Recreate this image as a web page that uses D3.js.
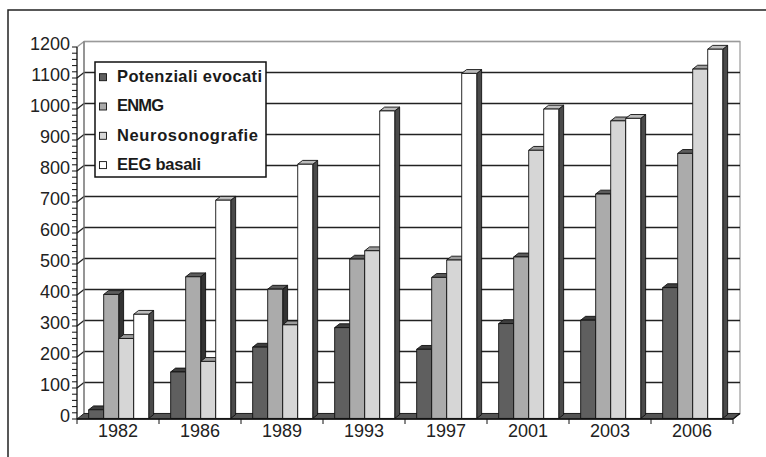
<!DOCTYPE html>
<html>
<head>
<meta charset="utf-8">
<script src="https://cdn.jsdelivr.net/npm/d3@7/dist/d3.min.js"></script>
<style>
  html, body { margin: 0; padding: 0; background: #fff; }
  svg { display: block; }
  text { font-family: "Liberation Sans", Arial, sans-serif; }
</style>
</head>
<body>
<svg id="chart" width="766" height="457"></svg>
<script>
// Examinations per year, by type
const years = ["1982", "1986", "1989", "1993", "1997", "2001", "2003", "2006"];
const seriesNames = ["Potenziali evocati", "ENMG", "Neurosonografie", "EEG basali"];
const potenzialiEvocati = [28, 150, 230, 293, 223, 306, 317, 422];
const enmg = [400, 457, 417, 514, 455, 521, 724, 855];
const neurosonografie = [258, 184, 302, 541, 511, 865, 960, 1127];
const eegBasali = [336, 704, 820, 992, 1113, 998, 968, 1191];
const yTicks = [0, 100, 200, 300, 400, 500, 600, 700, 800, 900, 1000, 1100, 1200];

const seriesValues = [potenzialiEvocati, enmg, neurosonografie, eegBasali];
// rendered widths of the legend entries
const legendWidths = [145, 47, 141, 84];

// face shades per series: front, top, side
const shades = [
  { front: "#5f5f5f", top: "#3e3e3e", side: "#2e2e2e" },
  { front: "#ababab", top: "#5c5c5c", side: "#333333" },
  { front: "#d6d6d6", top: "#9c9c9c", side: "#505050" },
  { front: "#ffffff", top: "#bcbcbc", side: "#4a4a4a" }
];

const svg = d3.select("#chart");

// outer frame (open on the right and bottom)
svg.append("path")
  .attr("d", "M8,457 L8,10 L766,10")
  .attr("fill", "none").attr("stroke", "#222").attr("stroke-width", 1.5);

// plot geometry
const x0 = 77, x1 = 733;
const DX = 7, DY = -5.5;          // depth of the floor / walls
const y = d3.scaleLinear().domain([0, 1200]).range([419, 47]);
const xg = d3.scaleBand().domain(years).range([x0, x1]).paddingInner(0).paddingOuter(0);
const xs = d3.scaleBand().domain(seriesNames).range([0, xg.bandwidth()])
  .paddingInner(0).paddingOuter(0.73);

// back wall
svg.append("rect")
  .attr("x", x0 + DX).attr("y", y(1200) + DY)
  .attr("width", x1 - x0).attr("height", y(0) - y(1200))
  .attr("fill", "#fff").attr("stroke", "#9a9a9a").attr("stroke-width", 1.2);

// gridlines on back wall and side wall
const grid = svg.append("g");
yTicks.filter(v => v > 0).forEach(v => {
  const col = v === 1200 ? "#9a9a9a" : "#222";
  grid.append("line")
    .attr("x1", x0 + DX).attr("x2", x1 + DX)
    .attr("y1", y(v) + DY).attr("y2", y(v) + DY)
    .attr("stroke", col).attr("stroke-width", 1.3);
  grid.append("line")
    .attr("x1", x0).attr("y1", y(v))
    .attr("x2", x0 + DX).attr("y2", y(v) + DY)
    .attr("stroke", col).attr("stroke-width", 1.3);
});
// left wall edge
grid.append("line")
  .attr("x1", x0 + DX).attr("x2", x0 + DX)
  .attr("y1", y(1200) + DY).attr("y2", y(0) + DY)
  .attr("stroke", "#777").attr("stroke-width", 1.2);

// floor
svg.append("path")
  .attr("d", `M${x0},${y(0)} L${x1},${y(0)} L${x1 + DX},${y(0) + DY} L${x0 + DX},${y(0) + DY} Z`)
  .attr("fill", "#555").attr("stroke", "#222").attr("stroke-width", 1);

// bars, drawn left to right so neighbours cover hidden side faces
const fFront = 0.1, fBack = 0.8;
const bx = DX * fFront, by = DY * fFront;
const bdx = DX * (fBack - fFront), bdy = DY * (fBack - fFront);
const bars = svg.append("g");
years.forEach((yr, i) => {
  seriesNames.forEach((s, k) => {
    const v = seriesValues[k][i];
    const left = xg(yr) + xs(s) + bx;
    const w = xs.bandwidth();
    const top = y(v) + by, base = y(0) + by;
    const sh = shades[k];
    const g = bars.append("g").attr("stroke", "#111").attr("stroke-width", 0.9)
      .attr("stroke-linejoin", "round");
    // right side
    g.append("path")
      .attr("d", `M${left + w},${base} L${left + w},${top} L${left + w + bdx},${top + bdy} L${left + w + bdx},${base + bdy} Z`)
      .attr("fill", sh.side);
    // top
    g.append("path")
      .attr("d", `M${left},${top} L${left + w},${top} L${left + w + bdx},${top + bdy} L${left + bdx},${top + bdy} Z`)
      .attr("fill", sh.top);
    // front
    g.append("rect")
      .attr("x", left).attr("y", top).attr("width", w).attr("height", base - top)
      .attr("fill", sh.front);
  });
});

// y axis with minor ticks
const yAxis = svg.append("g");
yAxis.append("line")
  .attr("x1", x0).attr("x2", x0).attr("y1", y(1200)).attr("y2", y(0))
  .attr("stroke", "#111").attr("stroke-width", 1.3);
d3.range(0, 1201, 20).forEach(v => {
  yAxis.append("line")
    .attr("x1", x0 - 5).attr("x2", x0).attr("y1", y(v)).attr("y2", y(v))
    .attr("stroke", "#111").attr("stroke-width", 1);
});
yAxis.selectAll("text.yl").data(yTicks).join("text")
  .attr("class", "yl")
  .attr("x", 70).attr("y", d => y(d) - 2)
  .attr("text-anchor", "end").attr("dominant-baseline", "middle")
  .attr("font-size", 18).attr("fill", "#222")
  .text(d => d);

// x axis
const xAxis = svg.append("g");
xAxis.append("line")
  .attr("x1", x0).attr("x2", x1).attr("y1", y(0)).attr("y2", y(0))
  .attr("stroke", "#111").attr("stroke-width", 1.3);
xAxis.append("line")
  .attr("x1", x1).attr("y1", y(0)).attr("x2", x1 + DX).attr("y2", y(0) + DY)
  .attr("stroke", "#111").attr("stroke-width", 1.2);
years.concat(["end"]).forEach((yr, i) => {
  const xt = i < years.length ? xg(yr) : x1;
  xAxis.append("line")
    .attr("x1", xt).attr("x2", xt).attr("y1", y(0)).attr("y2", y(0) + 5)
    .attr("stroke", "#111").attr("stroke-width", 1);
});
xAxis.selectAll("text.xl").data(years).join("text")
  .attr("class", "xl")
  .attr("x", d => xg(d) + xg.bandwidth() / 2).attr("y", 432)
  .attr("text-anchor", "middle").attr("dominant-baseline", "middle")
  .attr("font-size", 18).attr("fill", "#222")
  .text(d => d);

// legend
const lg = svg.append("g");
lg.append("rect")
  .attr("x", 95).attr("y", 62).attr("width", 171).attr("height", 115)
  .attr("fill", "#fff").attr("stroke", "#111").attr("stroke-width", 1.5);
seriesNames.forEach((s, k) => {
  const cy = 77.7 + k * 29.3;
  lg.append("rect")
    .attr("x", 99.5).attr("y", cy - 4).attr("width", 7).attr("height", 7)
    .attr("fill", shades[k].front).attr("stroke", "#111").attr("stroke-width", 0.9);
  lg.append("text")
    .attr("x", 117).attr("y", cy)
    .attr("dominant-baseline", "middle")
    .attr("font-size", 16.5).attr("font-weight", "bold").attr("fill", "#1a1a1a")
    .attr("textLength", legendWidths[k]).attr("lengthAdjust", "spacing")
    .text(s);
});
</script>
</body>
</html>
